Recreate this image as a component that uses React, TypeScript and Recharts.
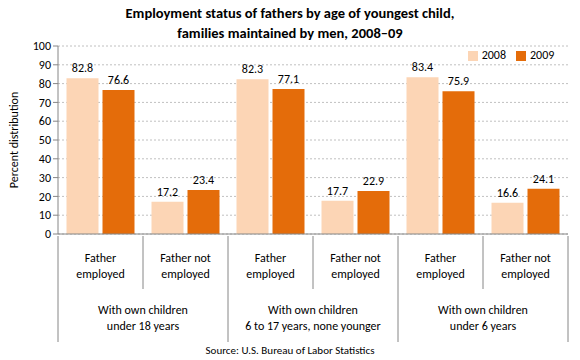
import { BarChart, Bar, XAxis, YAxis, CartesianGrid, Legend, LabelList, Label } from "recharts"

const subLabels = ["Father employed", "Father not employed", "Father employed", "Father not employed", "Father employed", "Father not employed"]
const groupLabels = [
  ["With own children", "under 18 years"],
  ["With own children", "6 to 17 years, none younger"],
  ["With own children", "under 6 years"],
]
const values2008 = [82.8, 17.2, 82.3, 17.7, 83.4, 16.6]
const values2009 = [76.6, 23.4, 77.1, 22.9, 75.9, 24.1]
const yTicks = [0, 10, 20, 30, 40, 50, 60, 70, 80, 90, 100]

const data = subLabels.map((s, i) => ({ sub: s, y2008: values2008[i], y2009: values2009[i] }))

const W = 580
const H = 360
const margin = { top: 46, right: 12, bottom: 26, left: 0 }
const yAxisW = 58
const bandW = (W - margin.left - margin.right - yAxisW) / data.length
const font = "Carlito, Lato, 'Liberation Sans', sans-serif"

function SubTick(props: any) {
  const { x, y, index } = props
  const words = subLabels[index].split(" ")
  const line1 = words.length > 2 ? "Father not" : "Father"
  const line2 = words[words.length - 1]
  const left = x - bandW / 2
  const isGroupStart = index % 2 === 0
  const last = index === data.length - 1
  const grp = groupLabels[Math.floor(index / 2)]
  return (
    <g>
      <line x1={left} x2={left} y1={y} y2={isGroupStart ? y + 106 : y + 53} stroke="#868686" />
      {last && <line x1={x + bandW / 2} x2={x + bandW / 2} y1={y} y2={y + 106} stroke="#868686" />}
      <text x={x} y={y + 26} textAnchor="middle" fontSize={12} fill="#000" fontFamily={font}>{line1}</text>
      <text x={x} y={y + 42} textAnchor="middle" fontSize={12} fill="#000" fontFamily={font}>{line2}</text>
      {isGroupStart && (
        <>
          <text x={x + bandW / 2} y={y + 78} textAnchor="middle" fontSize={12} fill="#000" fontFamily={font}>{grp[0]}</text>
          <text x={x + bandW / 2} y={y + 94} textAnchor="middle" fontSize={12} fill="#000" fontFamily={font}>{grp[1]}</text>
        </>
      )}
    </g>
  )
}

export default function App() {
  return (
    <div style={{ position: "absolute", left: 0, top: 0, width: W, height: H, background: "#fff", fontFamily: font }}>
      <div style={{ position: "absolute", top: 3, width: W, textAlign: "center", fontWeight: "bold", fontSize: 14.5, lineHeight: "20px", color: "#000" }}>
        Employment status of fathers by age of youngest child,<br />families maintained by men, 2008–09
      </div>
      <BarChart width={W} height={H} data={data} margin={margin} barGap={4} barCategoryGap="10%">
        <CartesianGrid vertical={false} strokeDasharray="2 2" stroke="#c0c0c0" />
        <XAxis dataKey="sub" height={100} interval={0} tickLine={false} tickSize={0} axisLine={{ stroke: "#868686" }} tick={<SubTick />} />
        <YAxis
          width={yAxisW}
          domain={[0, 100]}
          ticks={yTicks}
          interval={0}
          tickSize={5}
          axisLine={{ stroke: "#868686" }}
          tickLine={{ stroke: "#868686" }}
          tick={{ fontSize: 12, fill: "#000", fontFamily: font }}
        >
          <Label value="Percent distribution" angle={-90} position="insideLeft" offset={14} style={{ fontSize: 12, fill: "#000", fontFamily: font, textAnchor: "middle" }} />
        </YAxis>
        <Legend
          layout="horizontal"
          verticalAlign="middle"
          align="center"
          iconType="square"
          iconSize={10}
          wrapperStyle={{ top: 48, left: 460, width: 112, fontSize: 12, fontFamily: font }}
          formatter={(v: string) => <span style={{ color: "#000" }}>{v}</span>}
        />
        <Bar dataKey="y2008" name="2008" fill="#FCD5B5" isAnimationActive={false}>
          <LabelList dataKey="y2008" position="top" offset={6} style={{ fontSize: 12, fill: "#000", fontFamily: font }} />
        </Bar>
        <Bar dataKey="y2009" name="2009" fill="#E46C0A" isAnimationActive={false}>
          <LabelList dataKey="y2009" position="top" offset={6} style={{ fontSize: 12, fill: "#000", fontFamily: font }} />
        </Bar>
      </BarChart>
      <div style={{ position: "absolute", top: 344, width: W, textAlign: "center", fontSize: 11, color: "#000" }}>
        Source: U.S. Bureau of Labor Statistics
      </div>
    </div>
  )
}
